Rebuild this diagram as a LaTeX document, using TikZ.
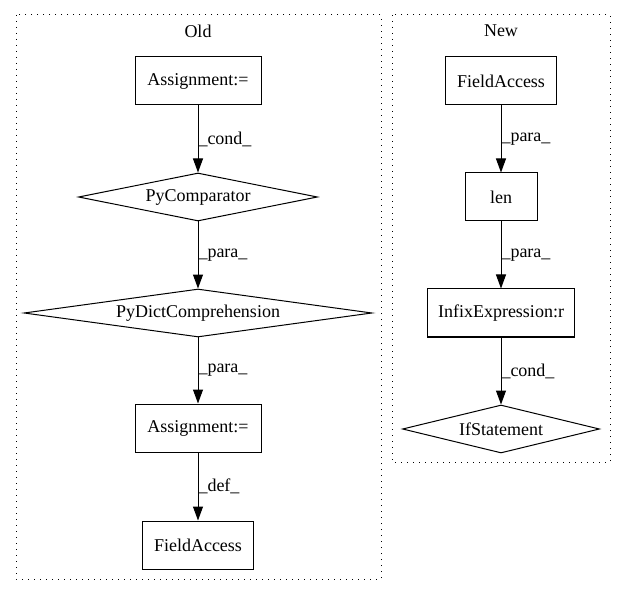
\documentclass[tikz,border=0pt]{standalone}
\usepackage{fontspec}
\setmainfont{Liberation Serif}
\usetikzlibrary{shapes.geometric,arrows.meta}
\tikzset{
	box/.style={draw, rectangle, minimum height=48pt, inner sep=0pt},
	cond/.style={draw, diamond, minimum height=48pt, inner sep=0pt},
	edge/.style={-{Triangle[length=14pt,width=10pt]}},
	lbl/.style={anchor=west, inner sep=0pt},
	cluster/.style={dash pattern=on 1pt off 5pt}
}
\begin{document}
\begin{tikzpicture}[x=1pt, y=-1pt, line width=1pt, font=\fontsize{18}{20}\selectfont]
	\useasboundingbox (0, 0) rectangle (627, 596);
	% Clusters.
	\draw[cluster] (16, 15) rectangle (381, 579);
	\draw[cluster] (392, 15) rectangle (610, 462);
	\node (oldtitle) at (198, 31) {Old};
	\node (newtitle) at (501, 31) {New};
	% Old graph.
	\node[box, minimum width=126pt] (assignA) at (198, 81) {Assignment:=};
	\node[cond, minimum width=239pt, aspect=5] (pycmp) at (198, 197) {PyComparator};
	\node[cond, minimum width=348pt, aspect=7.25] (pydict) at (198, 313) {PyDictComprehension};
	\node[box, minimum width=126pt] (assignB) at (198, 428) {Assignment:=};
	\node[box, minimum width=111pt] (fieldold) at (198, 545) {FieldAccess};
	\draw[edge] (assignA) -- node[lbl] {\_cond\_} (pycmp);
	\draw[edge] (pycmp) -- node[lbl] {\_para\_} (pydict);
	\draw[edge] (pydict) -- node[lbl] {\_para\_} (assignB);
	\draw[edge] (assignB) -- node[lbl] {\_def\_} (fieldold);
	% New graph.
	\node[box, minimum width=111pt] (fieldnew) at (501, 81) {FieldAccess};
	\node[box, minimum width=72pt] (len) at (501, 197) {len};
	\node[box, minimum width=147pt] (infix) at (501, 313) {InfixExpression:r};
	\node[cond, minimum width=197pt, aspect=4.1] (ifstmt) at (501, 429) {IfStatement};
	\draw[edge] (fieldnew) -- node[lbl] {\_para\_} (len);
	\draw[edge] (len) -- node[lbl] {\_para\_} (infix);
	\draw[edge] (infix) -- node[lbl] {\_cond\_} (ifstmt);
\end{tikzpicture}
\end{document}
